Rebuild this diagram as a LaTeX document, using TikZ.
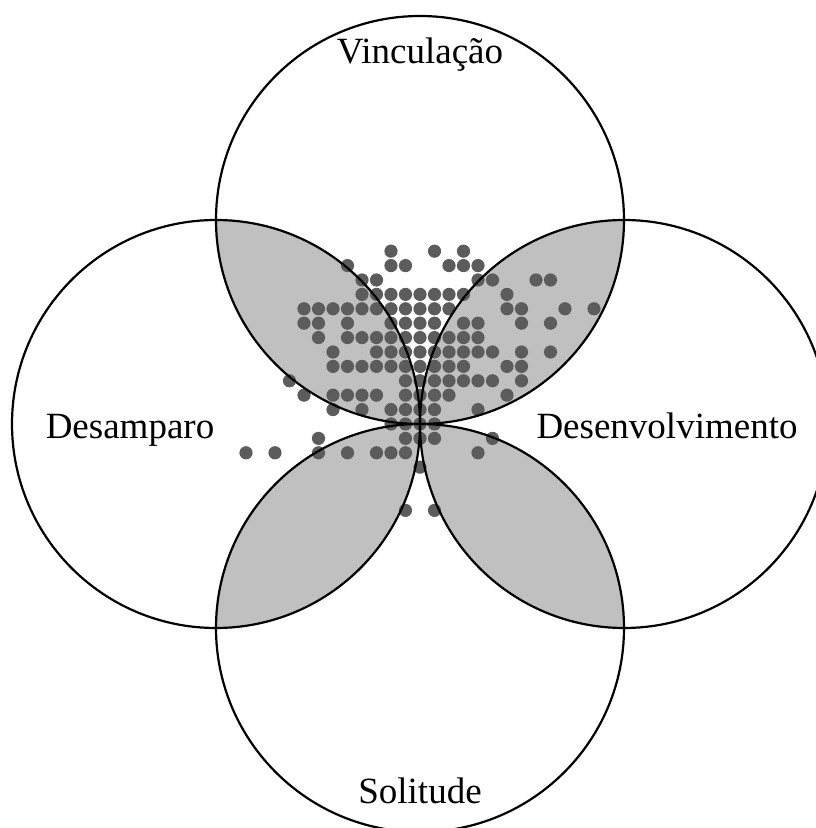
\documentclass[tikz,border=0pt]{standalone}
\usepackage{fontspec}
\setmainfont{Liberation Serif}
\definecolor{lensgray}{RGB}{192,192,192}
\definecolor{dotgray}{RGB}{92,92,92}
\begin{document}
\begin{tikzpicture}[x=1pt,y=1pt,
  ring/.style={draw=black,line width=2.2pt},
  lens/.style={fill=lensgray},
  dot/.style={fill=dotgray},
  lbl/.style={font=\fontsize{37}{44}\selectfont,anchor=base}]
  \useasboundingbox (0,0) rectangle (815,828);
  \def\rad{204}
  \coordinate (C) at (420,404);
  \coordinate (T) at (420,608);
  \coordinate (L) at (216,404);
  \coordinate (R) at (624,404);
  \coordinate (B) at (420,200);
  \begin{scope}
    \clip (T) circle (\rad);
    \fill[lens] (L) circle (\rad);
    \fill[lens] (R) circle (\rad);
  \end{scope}
  \begin{scope}
    \clip (B) circle (\rad);
    \fill[lens] (L) circle (\rad);
    \fill[lens] (R) circle (\rad);
  \end{scope}
  \foreach \r/\cols in {
      12/{-2,1,3},
      11/{-5,-2,-1,2,3,4},
      10/{-4,-3,4,5,8,9},
      9/{-4,-3,-2,-1,0,1,2,3,6},
      8/{-8,-7,-6,-5,-4,-3,-2,-1,0,1,2,6,7,10,12},
      7/{-8,-7,-5,-2,-1,0,1,3,4,7,9},
      6/{-7,-5,-4,-3,-2,-1,0,1,2,3,4},
      5/{-6,-3,-2,-1,0,1,2,3,4,5,7,9},
      4/{-6,-5,-4,-3,-2,-1,0,1,2,3,6,7},
      3/{-9,-1,0,1,2,3,4,5,7},
      2/{-8,-6,-5,-4,-3,-1,0,1,2,6},
      1/{-6,-4,-2,-1,0,1,4},
      0/{-2,-1,0,1},
      -1/{-7,-1,0,1,5},
      -2/{-12,-10,-7,-5,-3,-2,-1,4},
      -3/{0},
      -6/{-1,1}}
    \foreach \c in \cols
      \fill[dot] ({420+14.5*(\c)},{404+14.4*(\r)}) circle (6.6);
  \draw[ring] (T) circle (\rad);
  \draw[ring] (L) circle (\rad);
  \draw[ring] (R) circle (\rad);
  \draw[ring] (B) circle (\rad);
  \draw[line width=2.4pt] ([xshift=-7pt]C) -- ([xshift=7pt]C)
    ([yshift=-7pt]C) -- ([yshift=7pt]C);
  \node[lbl] (vinc) at (420,764) {Vinculação};
  \node[lbl] (desamp) at (130,389) {Desamparo};
  \node[lbl] (desenv) at (667,389) {Desenvolvimento};
  \node[lbl] (solit) at (420,24) {Solitude};
\end{tikzpicture}
\end{document}
